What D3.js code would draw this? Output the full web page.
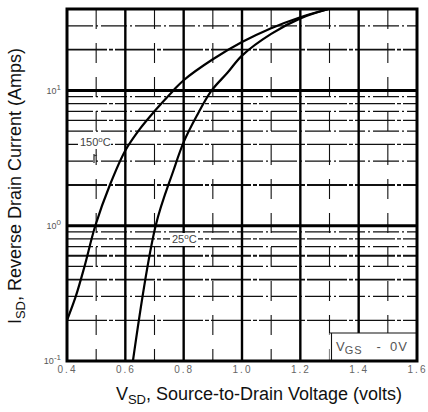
<!DOCTYPE html>
<html>
<head>
<meta charset="utf-8">
<script src="https://cdn.jsdelivr.net/npm/d3@7"></script>
<style>
  body { margin: 0; background: #fff; }
  svg { display: block; }
  text { font-family: "Liberation Sans", Arial, sans-serif; }
</style>
</head>
<body>
<svg id="chart" width="428" height="412"></svg>
<script>
// tick values
const xMajor = [0.4, 0.6, 0.8, 1.0, 1.2, 1.4, 1.6];
const xMinor = [0.5, 0.7, 0.9, 1.1, 1.3, 1.5];
const yDecades = [0.1, 1, 10];
const yDecadeLabels = ["-1", "0", "1"];
const yMinor = [0.2, 0.3, 0.4, 0.5, 0.6, 0.7, 0.8, 0.9,
  2, 3, 4, 5, 6, 7, 8, 9, 20, 30];

// 150 C curve
const v150 = [0.4, 0.43, 0.46, 0.497, 0.547, 0.6, 0.65, 0.702, 0.765, 0.8, 0.9, 1.0, 1.096, 1.2, 1.297];
const i150 = [0.2, 0.3, 0.5, 1.0, 2.0, 3.6, 5.2, 7.1, 10, 11.9, 17, 22.8, 28.6, 34.8, 40];

// 25 C curve
const v25 = [0.626, 0.704, 0.765, 0.8, 0.845, 0.896, 0.95, 1.0, 1.1, 1.2, 1.297];
const i25 = [0.1, 1.0, 2.56, 4.15, 6.5, 10, 13.5, 18.1, 26.2, 34.1, 40];

const pLeft = 67, pRight = 417, pTop = 9, pBottom = 361;

const svg = d3.select("#chart");

const x = d3.scaleLinear().domain([0.4, 1.6]).range([pLeft, pRight]);
const y = d3.scaleLog().domain([0.1, 40]).range([pBottom, pTop]);

const grid = svg.append("g");

// minor horizontal lines
grid.selectAll(".hmin")
  .data(yMinor)
  .join("line")
  .attr("x1", pLeft).attr("x2", pRight)
  .attr("y1", d => y(d)).attr("y2", d => y(d))
  .attr("stroke", "#111")
  .attr("stroke-width", d => (d === 2 || d === 0.6 || d === 0.4 || d === 20) ? 1.8 : 1.2)
  .attr("stroke-dasharray", (d, i) => i % 2 ? "26,3,2,3" : "40,2,4,2");

// minor vertical lines (dashed)
grid.selectAll(".vmin")
  .data(xMinor)
  .join("line")
  .attr("x1", d => x(d)).attr("x2", d => x(d))
  .attr("y1", pTop).attr("y2", pBottom)
  .attr("stroke", "#111")
  .attr("stroke-width", 1.1)
  .attr("stroke-dasharray", "20,14");

// major vertical lines
grid.selectAll(".vmaj")
  .data(xMajor.slice(1, -1))
  .join("line")
  .attr("x1", d => x(d)).attr("x2", d => x(d))
  .attr("y1", pTop).attr("y2", pBottom)
  .attr("stroke", "#000")
  .attr("stroke-width", 2.4);

// decade lines
grid.selectAll(".hmaj")
  .data(yDecades.slice(1))
  .join("line")
  .attr("x1", pLeft).attr("x2", pRight)
  .attr("y1", d => y(d)).attr("y2", d => y(d))
  .attr("stroke", "#000")
  .attr("stroke-width", 3);

// curves
const line = d3.line()
  .x(d => x(d[0]))
  .y(d => y(d[1]))
  .curve(d3.curveCatmullRom.alpha(0.5));

const curves = [
  d3.zip(v150, i150),
  d3.zip(v25, i25)
];

svg.append("g")
  .selectAll("path")
  .data(curves)
  .join("path")
  .attr("d", line)
  .attr("fill", "none")
  .attr("stroke", "#000")
  .attr("stroke-width", 2.2);

// labels with white backing
function tempLabel(tx, ty, num, w) {
  svg.append("rect")
    .attr("x", tx - 2).attr("y", ty - 10)
    .attr("width", w).attr("height", 13)
    .attr("fill", "#fff");
  const t = svg.append("text")
    .attr("x", tx).attr("y", ty)
    .attr("font-size", 11)
    .attr("fill", "#444");
  t.append("tspan").text(num);
  t.append("tspan").attr("dy", -4).attr("font-size", 8).text("o");
  t.append("tspan").attr("dy", 4).text("C");
}
tempLabel(80, 146, "150", 33);
tempLabel(172, 243, "25", 28);

// small pointer under the 150 label
svg.append("path")
  .attr("d", "M94,154 L94,163 M94,156 L97,155")
  .attr("stroke", "#333")
  .attr("stroke-width", 1.3)
  .attr("fill", "none");

// VGS box
svg.append("rect")
  .attr("x", x(1.3)).attr("y", 333)
  .attr("width", pRight - x(1.3)).attr("height", pBottom - 333)
  .attr("fill", "#fff");
svg.append("line")
  .attr("x1", x(1.3)).attr("x2", pRight)
  .attr("y1", 333).attr("y2", 333)
  .attr("stroke", "#111").attr("stroke-width", 1.2);
svg.append("line")
  .attr("x1", x(1.3) + 2).attr("x2", x(1.3) + 2)
  .attr("y1", 333).attr("y2", pBottom)
  .attr("stroke", "#111").attr("stroke-width", 1.1);
const vgs = svg.append("text")
  .attr("x", 336).attr("y", 351)
  .attr("font-size", 13)
  .attr("fill", "#555");
vgs.append("tspan").text("V");
vgs.append("tspan").attr("dy", 3).attr("font-size", 11).attr("letter-spacing", 1).text("GS");
vgs.append("tspan").attr("dy", -3).attr("dx", 14).text("-");
vgs.append("tspan").attr("dx", 9).attr("letter-spacing", 1).text("0V");

// frame
svg.append("rect")
  .attr("x", pLeft).attr("y", pTop)
  .attr("width", pRight - pLeft).attr("height", pBottom - pTop)
  .attr("fill", "none")
  .attr("stroke", "#000")
  .attr("stroke-width", 3);

// x tick labels
const xAxis = svg.append("g")
  .attr("transform", `translate(0,${pBottom + 2})`)
  .call(d3.axisBottom(x).tickValues(xMajor).tickSize(0).tickFormat(d3.format(".1f")));
xAxis.select(".domain").remove();
xAxis.selectAll("text")
  .attr("font-family", "'DejaVu Sans Mono', monospace")
  .attr("font-size", 10)
  .attr("letter-spacing", 2)
  .attr("fill", "#666");

// y tick labels with superscript exponents
const yAxis = svg.append("g")
  .attr("transform", `translate(${pLeft - 3},0)`)
  .call(d3.axisLeft(y).tickValues(yDecades).tickSize(0).tickFormat(""));
yAxis.select(".domain").remove();
yAxis.selectAll(".tick text")
  .attr("font-family", "'DejaVu Serif', serif")
  .attr("font-size", 9)
  .attr("fill", "#555")
  .each(function (d, i) {
    const t = d3.select(this);
    t.append("tspan").text("10");
    t.append("tspan").attr("dy", -4).attr("font-size", 8).text(yDecadeLabels[i]);
  });

// axis titles
const xt = svg.append("text")
  .attr("x", 259).attr("y", 400)
  .attr("text-anchor", "middle")
  .attr("font-size", 18)
  .attr("fill", "#111");
xt.append("tspan").text("V");
xt.append("tspan").attr("dy", 4).attr("font-size", 13).text("SD");
xt.append("tspan").attr("dy", -4).text(", Source-to-Drain Voltage (volts)");

const yt = svg.append("text")
  .attr("transform", "translate(21,186) rotate(-90)")
  .attr("text-anchor", "middle")
  .attr("font-size", 18)
  .attr("fill", "#111");
yt.append("tspan").text("I");
yt.append("tspan").attr("dy", 4).attr("font-size", 13).text("SD");
yt.append("tspan").attr("dy", -4).text(", Reverse Drain Current (Amps)");
</script>
</body>
</html>
